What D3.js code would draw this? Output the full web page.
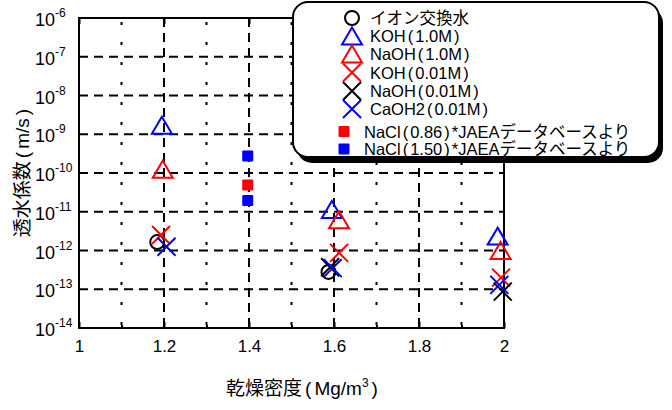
<!DOCTYPE html>
<html><head><meta charset="utf-8">
<script src="https://cdn.jsdelivr.net/npm/d3@7"></script>
<style>
body{margin:0;background:#fff;}
text{font-family:"Liberation Sans",Arial,"Noto Sans CJK JP",sans-serif;}
</style></head>
<body><svg id="c" width="672" height="410"></svg>
<script>
// ---- data ----
const seriesNames = ["イオン交換水","KOH(1.0M)","NaOH(1.0M)","KOH(0.01M)","NaOH(0.01M)","CaOH2(0.01M)","NaCl(0.86)*JAEAデータベースより","NaCl(1.50)*JAEAデータベースより"];
const seriesSymbols = ["circle","triangle","triangle","cross","cross","cross","square","square"];
const seriesColors = ["#000","#0000ff","#ff0000","#ff0000","#000","#0000ff","#ff0000","#0000ff"];
const ionX = [1.184, 1.587];           const ionY = [1.65e-12, 2.8e-13];
const koh1X = [1.195, 1.595, 1.985];   const koh1Y = [1.7e-9, 1.15e-11, 2.35e-12];
const naoh1X = [1.197, 1.612, 1.992];  const naoh1Y = [1.25e-10, 6.2e-12, 1.0e-12];
const koh001X = [1.193, 1.612, 1.993]; const koh001Y = [2.5e-12, 8.7e-13, 2.0e-13];
const naoh001X = [1.591, 1.997];       const naoh001Y = [3.7e-13, 8.7e-14];
const caoh001X = [1.206, 1.597, 1.989];const caoh001Y = [1.25e-12, 3.5e-13, 1.3e-13];
const nacl086X = [1.397];              const nacl086Y = [4.9e-11];
const nacl150X = [1.397, 1.397];       const nacl150Y = [2.75e-10, 1.95e-11];
const seriesX = [ionX,koh1X,naoh1X,koh001X,naoh001X,caoh001X,nacl086X,nacl150X];
const seriesY = [ionY,koh1Y,naoh1Y,koh001Y,naoh001Y,caoh001Y,nacl086Y,nacl150Y];
const xTicks = [1,1.2,1.4,1.6,1.8,2];
const xTickLabels = ["1","1.2","1.4","1.6","1.8","2"];
const xMinor = [1.1,1.3,1.5,1.7,1.9];
const yExps = [-6,-7,-8,-9,-10,-11,-12,-13,-14];
const xTitle = "乾燥密度(Mg/m";
const yTitle = "透水係数(m/s)";

// ---- helpers ----
// writes a string into a text element, giving the parentheses extra side spacing
function parenText(sel, str, pad){
  let buf = "", dxNext = 0;
  const flush = ()=>{ if(buf){ sel.append("tspan").attr("dx",dxNext).text(buf); buf=""; dxNext=0; } };
  for(const ch of str){
    if(ch==="("||ch===")"){ flush(); sel.append("tspan").attr("dx",dxNext+pad).text(ch); dxNext=pad; }
    else buf += ch;
  }
  flush();
  return dxNext;
}

// ---- layout ----
const svg = d3.select("#c");
const L = 79, R = 504, T = 18, B = 328;
const x = d3.scaleLinear().domain([1,2]).range([L,R]);
const y = d3.scaleLog().domain([1e-14,1e-6]).range([B,T]);

// grid
const g = svg.append("g");
g.selectAll(".hg").data(yExps.slice(1,-1)).join("line")
  .attr("x1",L).attr("x2",R).attr("y1",d=>y(Math.pow(10,d))).attr("y2",d=>y(Math.pow(10,d)))
  .attr("stroke","#000").attr("stroke-width",2).attr("stroke-dasharray","9,6");
g.selectAll(".vg").data(xTicks.slice(1,-1)).join("line")
  .attr("y1",T).attr("y2",B).attr("x1",d=>x(d)).attr("x2",d=>x(d))
  .attr("stroke","#000").attr("stroke-width",2).attr("stroke-dasharray","9,6");
g.selectAll(".vm").data(xMinor).join("line")
  .attr("y1",T+4).attr("y2",B).attr("x1",d=>x(d)).attr("x2",d=>x(d))
  .attr("stroke","#000").attr("stroke-width",2).attr("stroke-dasharray","3,17");

// axes with ticks
const xAxB = d3.axisBottom(x).tickValues(xTicks).tickSize(-6).tickFormat((d,i)=>xTickLabels[i]).tickPadding(12);
const gx = svg.append("g").attr("transform",`translate(0,${B})`).call(xAxB);
gx.select(".domain").remove();
gx.selectAll(".tick line").attr("stroke-width",2);
gx.selectAll(".tick text").attr("font-size",17).attr("fill","#000")
  .attr("font-family","'Liberation Sans',Arial,sans-serif");
const gxm = svg.append("g").attr("transform",`translate(0,${B})`)
  .call(d3.axisBottom(x).tickValues(xMinor).tickSize(-3).tickFormat(""));
gxm.select(".domain").remove(); gxm.selectAll(".tick line").attr("stroke-width",2);
const gxt = svg.append("g").attr("transform",`translate(0,${T})`)
  .call(d3.axisTop(x).tickValues(xTicks).tickSize(-6).tickFormat(""));
gxt.select(".domain").remove(); gxt.selectAll(".tick line").attr("stroke-width",2);

// y tick labels
const yl = svg.append("g");
yExps.forEach(e=>{
  const t = yl.append("text").attr("x",35).attr("y",y(Math.pow(10,e))+8)
    .attr("font-size",18).attr("fill","#000");
  t.append("tspan").text("10");
  t.append("tspan").attr("dy",-9).attr("font-size",12).text(String(e));
});

// frame
svg.append("rect").attr("x",L).attr("y",T).attr("width",R-L).attr("height",B-T)
  .attr("fill","none").attr("stroke","#000").attr("stroke-width",2);

// symbols
function drawSym(sel, type, cx, cy, color, s){
  if(type==="circle") sel.append("circle").attr("cx",cx).attr("cy",cy).attr("r",7*s)
      .attr("fill","none").attr("stroke",color).attr("stroke-width",2);
  else if(type==="triangle") sel.append("path")
      .attr("d",`M${cx},${cy-8.5*s}L${cx+10*s},${cy+8.5*s}L${cx-10*s},${cy+8.5*s}Z`)
      .attr("fill","none").attr("stroke",color).attr("stroke-width",2);
  else if(type==="cross") sel.append("path")
      .attr("d",`M${cx-9*s},${cy-9*s}L${cx+9*s},${cy+9*s}M${cx-9*s},${cy+9*s}L${cx+9*s},${cy-9*s}`)
      .attr("fill","none").attr("stroke",color).attr("stroke-width",2);
  else if(type==="square") sel.append("rect").attr("x",cx-5.5).attr("y",cy-5.5)
      .attr("width",11).attr("height",11).attr("rx",1).attr("fill",color);
}
const pts = svg.append("g");
seriesNames.forEach((n,i)=>{
  seriesX[i].forEach((xv,j)=>drawSym(pts, seriesSymbols[i], x(xv), y(seriesY[i][j]), seriesColors[i], 1));
});

// legend
const lg = svg.append("g");
lg.append("rect").attr("x",297).attr("y",8).attr("width",366).attr("height",155).attr("rx",15)
  .attr("fill","#000");
lg.append("rect").attr("x",293).attr("y",2).attr("width",366).attr("height",155).attr("rx",15)
  .attr("fill","#fff").attr("stroke","#000").attr("stroke-width",2);
const rowY = [18,36,54,72.5,91,109,131.5,149];
seriesNames.forEach((n,i)=>{
  const isSq = seriesSymbols[i]==="square";
  drawSym(lg, seriesSymbols[i], isSq?344:352, rowY[i], seriesColors[i], 1);
  const t = lg.append("text").attr("x",isSq?364:370).attr("y",rowY[i]+6).attr("font-size",16.5)
    .attr("fill","#000");
  parenText(t, n, 2);
});

// axis titles
const xt = svg.append("text").attr("x",302).attr("y",395).attr("text-anchor","middle")
  .attr("font-size",19).attr("fill","#000");
parenText(xt, xTitle, 3);
xt.append("tspan").attr("dy",-8).attr("font-size",12).text("3");
xt.append("tspan").attr("dy",8).attr("dx",3).text(")");
const yt = svg.append("text").attr("transform","translate(29,173) rotate(-90)").attr("text-anchor","middle")
  .attr("font-size",19).attr("fill","#000");
parenText(yt, yTitle, 3);
</script></body></html>
